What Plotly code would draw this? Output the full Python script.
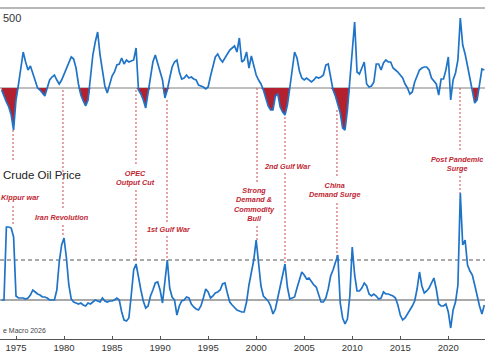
import numpy as np
import plotly.graph_objects as go

# ---------------- DATA ----------------
start_year = 1973.5          # first quarterly observation
step_years = 0.25            # quarterly sampling

# S&P 500, year-over-year % change
sp500_yoy = [
    -2, -9, -14, -19, -27, -42, -12, 3, 20, 36,
    26, 18, 22, 14, 7, 0, -2, -5, -8, 0,
    8, 11, 13, 8, 4, 8, 14, 21, 26, 31,
    29, 20, 4, -7, -13, -18, -12, 11, 33, 46,
    56, 33, 17, 2, -5, 5, 12, 16, 23, 24,
    30, 24, 28, 26, 27, 28, 40, -2, -6, -12,
    -20, -4, 14, 26, 33, 25, 16, 8, -10, -2,
    10, 21, 26, 28, 16, 9, 10, 13, 10, 11,
    9, 8, 3, 2, 1, -1, 1, 12, 22, 31,
    34, 29, 26, 30, 33, 38, 40, 42, 36, 50,
    26, 28, 36, 20, 32, 22, 13, 8, 4, -2,
    -11, -18, -22, -22, -8, -6, -19, -24, -27, -17,
    0, 20, 36, 30, 17, 10, 8, 10, 8, 6,
    8, 11, 10, 11, 13, 23, 24, 12, -2, -8,
    -16, -25, -40, -42, -22, 8, 33, 66, 16, 14,
    20, 26, 4, 1, 2, 6, 24, 24, 18, 25,
    28, 26, 26, 20, 18, 16, 13, 10, 4, 0,
    -6, -4, 6, 12, 18, 20, 21, 21, 18, 10,
    7, 4, -7, 9, 9, 18, 31, -12, 8, 15,
    28, 70, 43, 34, 22, 10, 0, -15, -12, 6,
    19, 18,
]

# Crude oil price, year-over-year % change
oil_yoy = [
    0, 0, 182.5, 182.5, 180, 157.5, 10, 5, 5, 5,
    2.5, 5, 12.5, 25, 20, 15, 12.5, 7.5, 7.5, 5,
    0, 0, 0, 25, 95, 137.5, 155, 105, 37.5, 2.5,
    -5, -7.5, -10, -7.5, -12.5, -15, -7.5, -10, -5, 0,
    -2.5, -5, 5, -2.5, -5, -2.5, -2.5, 0, 5, 0,
    -30, -50, -52.5, -45, 12.5, 75, 90, 55, 25, -2.5,
    -20, -15, 10, 25, 42.5, 45, 25, -7.5, 42.5, 100,
    30, 7.5, 0, -37.5, -15, -2.5, 0, 7.5, 5, -10,
    -17.5, -22.5, -25, -15, 5, 27.5, 20, 5, 10, 17.5,
    20, 25, 40, 42.5, 17.5, -5, -12.5, -20, -25, -27.5,
    -30, -30, -5, 37.5, 65, 100, 150, 95, 35, 10,
    2.5, -2.5, -15, -35, -22.5, 5, 37.5, 65, 90, 32.5,
    2.5, 5, 7.5, 30, 52.5, 70, 62.5, 52.5, 55, 45,
    37.5, 32.5, 15, -5, -5, 5, 27.5, 60, 75, 95,
    112.5, -7.5, -45, -60, -47.5, 10, 132.5, 62.5, 22.5, 22.5,
    30, 42.5, 35, 15, 10, 15, 10, 2.5, 5, 20,
    15, 15, 12.5, 10, 5, -12.5, -37.5, -50, -45, -35,
    -27.5, -15, -2.5, 27.5, 70, 35, 17.5, 22.5, 30, 42.5,
    55, 27.5, -10, -15, -15, -10, -30, -70, -25, -5,
    37.5, 267.5, 137.5, 150, 87.5, 72.5, 62.5, 37.5, 10, -15,
    -35, -12.5,
]

oil_threshold = 100   # dashed reference level (%)

# S&P 500 bear-market periods (shaded red)
bear_periods = [
    (1973.4, 1975.2), (1977.5, 1978.25), (1981.5, 1982.6), (1987.7, 1988.85),
    (1990.3, 1991.0), (2000.7, 2003.5), (2007.9, 2009.8), (2022.4, 2023.2),
]

event_years = [1974.69, 1979.89, 1987.49, 1990.72, 2000.09, 2003.0, 2008.41, 2021.22]
event_labels = [
    "Kippur war", "Iran Revolution", "OPEC<br>Output Cut", "1st Gulf War",
    "Strong<br>Demand &<br>Commodity<br>Bull", "2nd Gulf War",
    "China<br>Demand Surge", "Post Pandemic<br>Surge",
]

tick_years = [1975, 1980, 1985, 1990, 1995, 2000, 2005, 2010, 2015, 2020]

# ---------------- STYLE / LAYOUT ----------------
W, H = 485, 360
PLOT_H = 339
BLUE = "#1f74c8"
RED_FILL = "#b3212f"
RED_TXT = "#bf2633"
RED_LINE = "#cf4a4f"
FONT = "Arial, Liberation Sans, sans-serif"


def py(px):
    return (PLOT_H - px) / PLOT_H


# pixel rows for event dashed segments (upper, lower)
event_segments = [
    [(130, 162), (206, 226)],
    [(90, 208), (225, 236)],
    [(90, 166), (190, 262)],
    [(100, 222), (236, 261)],
    [(88, 182), (226, 241)],
    [(117, 159), (173, 263)],
    [(110, 177), (203, 257)],
    [(88, 152), (176, 193)],
]
label_rows = [197, 217, 178, 229, 204.5, 166, 190, 164]
label_xshift = [7, -1, 0, 2, -3, 3, -2, -3]

years = start_year + step_years * np.arange(len(sp500_yoy))
sp = np.array(sp500_yoy, dtype=float)
oil = np.array(oil_yoy, dtype=float)

mask = np.zeros(len(years), dtype=bool)
for a, b in bear_periods:
    mask |= (years >= a) & (years <= b)
fill_y = np.where(mask, np.minimum(sp, 0), 0)

fig = go.Figure()
fig.add_trace(go.Scatter(x=years, y=fill_y, yaxis="y2", mode="lines",
                         fill="tozeroy", fillcolor=RED_FILL,
                         line=dict(width=0, color=RED_FILL), hoverinfo="skip"))
fig.add_trace(go.Scatter(x=years, y=sp, yaxis="y2", mode="lines",
                         line=dict(color=BLUE, width=1.7)))
fig.add_trace(go.Scatter(x=years, y=oil, yaxis="y", mode="lines",
                         line=dict(color=BLUE, width=1.7)))

shapes = [
    dict(type="line", xref="paper", yref="paper", x0=0, x1=1, y0=py(8), y1=py(8),
         line=dict(color="#a0a0a0", width=1.5), layer="below"),
    dict(type="line", xref="paper", yref="y2", x0=0, x1=1, y0=0, y1=0,
         line=dict(color="#808080", width=1.2), layer="below"),
    dict(type="line", xref="paper", yref="y", x0=0, x1=1, y0=0, y1=0,
         line=dict(color="#555555", width=1.2), layer="below"),
    dict(type="line", xref="paper", yref="y", x0=0, x1=1,
         y0=oil_threshold, y1=oil_threshold,
         line=dict(color="#555555", width=1, dash="4px,3px"), layer="below"),
]
for ey, segs in zip(event_years, event_segments):
    for top, bot in segs:
        shapes.append(dict(type="line", xref="x", yref="paper", x0=ey, x1=ey,
                           y0=py(top), y1=py(bot),
                           line=dict(color=RED_LINE, width=1, dash="2px,2px"),
                           layer="below"))

annotations = []
for ey, lab, row, xs in zip(event_years, event_labels, label_rows, label_xshift):
    annotations.append(dict(x=ey, y=py(row), xref="x", yref="paper", xshift=xs,
                            text="<b><i>" + lab + "</i></b>", showarrow=False,
                            xanchor="center", yanchor="middle", align="center",
                            font=dict(family=FONT, size=7.3, color=RED_TXT)))

annotations += [
    dict(x=1 / W, y=py(18), xref="paper", yref="paper", text="500",
         showarrow=False, xanchor="left", yanchor="middle",
         font=dict(family=FONT, size=11, color="#333333")),
    dict(x=1 / W, y=py(175), xref="paper", yref="paper", text="Crude Oil Price",
         showarrow=False, xanchor="left", yanchor="middle",
         font=dict(family=FONT, size=11.5, color="#222222")),
    dict(x=1 / W, y=py(330), xref="paper", yref="paper",
         text="e Macro 2026",
         showarrow=False, xanchor="left", yanchor="middle",
         font=dict(family=FONT, size=7, color="#444444")),
]

fig.update_layout(
    width=W, height=H,
    margin=dict(l=0, r=0, t=0, b=H - PLOT_H, pad=0),
    paper_bgcolor="white", plot_bgcolor="white",
    showlegend=False,
    xaxis=dict(range=[1973.335, 2023.82], tickvals=tick_years,
               ticktext=[str(t) for t in tick_years],
               ticks="inside", ticklen=3, tickcolor="#555555",
               showline=True, linecolor="#555555", linewidth=1,
               showgrid=False, zeroline=False,
               tickfont=dict(family=FONT, size=9.5, color="#333333")),
    yaxis=dict(range=[-97.5, 750], visible=False, showgrid=False, zeroline=False),
    yaxis2=dict(range=[-251, 88], overlaying="y", visible=False,
                showgrid=False, zeroline=False),
    shapes=shapes,
    annotations=annotations,
)

fig.write_html("out.html", config={"displayModeBar": False},
               post_script="document.body.style.margin='0';")
